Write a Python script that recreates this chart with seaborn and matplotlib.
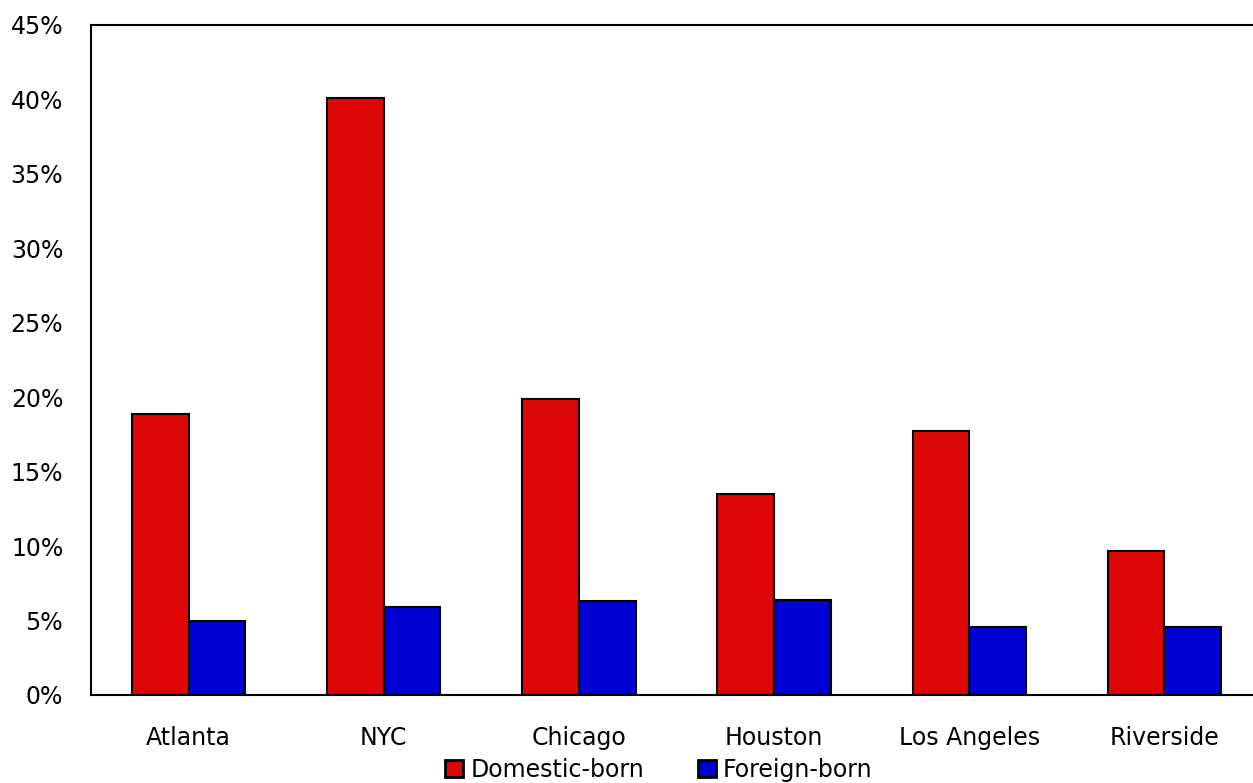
import pandas as pd
import seaborn as sns
import matplotlib.pyplot as plt
from matplotlib.ticker import PercentFormatter

# data (percent)
cities = ["Atlanta", "NYC", "Chicago", "Houston", "Los Angeles", "Riverside"]
domestic_born = [18.9, 40.1, 19.9, 13.5, 17.7, 9.7]
foreign_born = [5.0, 5.9, 6.3, 6.4, 4.6, 4.6]
groups = ["Domestic-born", "Foreign-born"]
colors = ["#DD0806", "#0000D4"]

df = pd.DataFrame({
    "city": cities * 2,
    "share": domestic_born + foreign_born,
    "group": [groups[0]] * len(cities) + [groups[1]] * len(cities),
})

sns.set_theme(style="white")
plt.rcParams["font.family"] = ["DejaVu Sans"]
plt.rcParams["text.color"] = "black"

fig = plt.figure(figsize=(12.53, 7.83), dpi=100)
ax = fig.add_axes([0.0726, 0.1124, 0.9346, 0.8557])

sns.barplot(data=df, x="city", y="share", hue="group", order=cities,
            hue_order=groups, palette=colors, saturation=1, width=0.58,
            edgecolor="black", linewidth=1.5, ax=ax)

ax.set_xlim(-0.5, len(cities) - 0.5)
ax.set_ylim(0, 45)
ax.set_yticks(range(0, 50, 5))
ax.yaxis.set_major_formatter(PercentFormatter(decimals=0))
ax.set_xlabel("")
ax.set_ylabel("")
ax.tick_params(axis="both", length=0, labelsize=17, colors="black")
ax.tick_params(axis="x", pad=22)
ax.tick_params(axis="y", pad=20)

for side in ["left", "top", "bottom", "right"]:
    ax.spines[side].set_color("black")
    ax.spines[side].set_linewidth(1.5)

ax.legend_.remove()
handles, labels = ax.get_legend_handles_labels()
leg = fig.legend(handles, labels, loc="center", bbox_to_anchor=(0.526, 0.017),
                 ncol=2, frameon=False, fontsize=17, handlelength=0.75,
                 handleheight=0.75, handletextpad=0.3, columnspacing=2.3)
for patch in leg.get_patches():
    patch.set_linewidth(2)

plt.savefig("out.png", dpi=100)
plt.close()
